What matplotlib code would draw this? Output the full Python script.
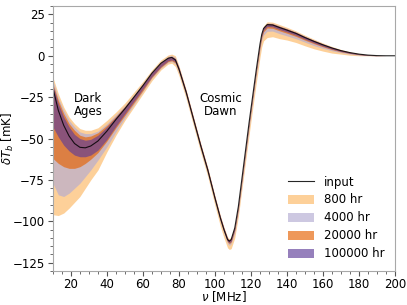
import matplotlib
matplotlib.use("Agg")
import matplotlib.pyplot as plt
import numpy as np
from matplotlib.ticker import MultipleLocator

# frequency grid [MHz]
nu = [10, 13, 16, 19, 22, 25, 28, 31, 35, 40, 45, 50, 55, 60, 65, 70, 74, 76, 78,
      80, 84, 88, 92, 96, 100, 103, 105, 107, 108, 109, 111, 113, 115, 117, 119,
      121, 123, 125, 126, 127, 129, 132, 136, 140, 145, 150, 155, 160, 165, 170,
      175, 180, 185, 190, 195, 200]

# input signal [mK]
t_input = [-19.5, -33, -42, -48.5, -53, -55.3, -55.6, -54.5, -51.5, -45.5, -38.5, -32, -25, -18, -10.5, -4.5, -1.5, -1, -2.5,
           -8, -22, -38, -54, -69, -86, -98, -105, -111, -112, -111, -104, -91, -74, -57, -40,
           -24, -8, 7, 13, 16.5, 18.8, 18.6, 17, 15.5, 13.5, 11, 8.7, 6.6, 4.7, 3.1,
           1.9, 1.0, 0.4, 0.1, 0, 0]

# 800 hr band
lo_800 = [-96, -96.5, -95, -92, -88.5, -85, -80, -75, -69, -58, -48, -39, -31, -23, -15, -8.5, -5, -4.5, -6.5,
          -12, -26, -42, -58, -73, -90.5, -103, -110, -116, -117, -116.5, -110, -97, -80.5, -64, -47.5,
          -31.5, -16, -1, 5.5, 9, 11, 11.5, 10.3, 9.5, 8, 6, 4.2, 2.8, 1.6, 1.0,
          0.3, 0, 0, 0, 0, 0]
hi_800 = [-13, -23, -31, -37, -41, -44, -45, -45, -43.5, -39, -34, -28.5, -22, -15.5, -8.5, -2.5, 0.5, 1, 0,
          -6, -20.5, -36.5, -52.5, -67.5, -84.5, -96.5, -103.5, -109.5, -110.5, -109.5, -102.5, -89.5, -72.5, -55.5, -38.5,
          -22.5, -6.5, 8.5, 14.5, 18, 20.5, 20.3, 18.8, 17.2, 15, 12.4, 10, 7.7, 5.6, 3.8,
          2.4, 1.3, 0.6, 0.2, 0, 0]

# 4000 hr band
lo_4000 = [-77, -84, -85, -83, -80, -77, -73, -69, -63, -55, -46, -37.5, -29.5, -21.5, -13.5, -7.5, -4, -3.5, -5,
           -10.5, -24.5, -40.5, -56.5, -71.5, -88.5, -100.5, -107.5, -113.5, -114.5, -113.5, -107, -94, -77.5, -60.5, -43.5,
           -27.5, -11.5, 3.5, 9.5, 12.5, 14.8, 14.9, 13.3, 12, 10.3, 8.2, 6.1, 4.5, 3, 1.9,
           1.0, 0.4, 0.1, 0, 0, 0]
hi_4000 = [-15, -25.5, -33, -39, -43, -46, -47, -47, -45.5, -41, -35.5, -30, -23.5, -16.5, -9.5, -3.5, -0.3, 0.2, -1,
           -6.8, -21, -37, -53, -68, -85, -97, -104, -110, -111, -110, -103, -90, -73, -56, -39,
           -23, -7, 8, 14, 17.5, 19.8, 19.6, 18, 16.5, 14.4, 11.8, 9.5, 7.3, 5.3, 3.6,
           2.2, 1.2, 0.5, 0.1, 0, 0]

# 20000 hr band
lo_20000 = [-62, -65, -67, -68, -68, -67, -65, -62.5, -58.5, -51.5, -43.5, -36, -28.5, -21, -13, -7, -3.5, -3, -4.3,
            -9.5, -23.5, -39.5, -55.5, -70.5, -87.5, -99.5, -106.5, -112.5, -113.5, -112.5, -105.5, -92.5, -75.5, -58.5, -41.5,
            -25.5, -9.5, 5, 11, 14.5, 16.8, 16.6, 15, 13.6, 11.7, 9.4, 7.3, 5.4, 3.7, 2.4,
            1.4, 0.7, 0.2, 0, 0, 0]
hi_20000 = [-17, -27, -35, -41, -45, -48, -49, -48.5, -46.5, -42, -36.5, -30.5, -24, -17, -10, -4, -0.8, -0.3, -1.7,
            -7.2, -21.2, -37.2, -53.2, -68.2, -85.2, -97.2, -104.2, -110.2, -111.2, -110.2, -103.2, -90.2, -73.2, -56.2, -39.2,
            -23.2, -7.2, 7.8, 13.8, 17.3, 19.6, 19.4, 17.8, 16.3, 14.2, 11.6, 9.3, 7.1, 5.1, 3.5,
            2.1, 1.1, 0.5, 0.1, 0, 0]

# 100000 hr band
lo_100000 = [-43, -49, -54, -57.5, -60, -61, -61, -60, -57, -50.5, -42.5, -35, -27.5, -20, -12.5, -6.5, -3, -2.5, -3.6,
             -9, -23, -39, -55, -70, -87, -99, -106, -112, -113, -112, -105, -92, -75, -58, -41,
             -25, -9, 6, 12, 15.5, 17.7, 17.5, 15.8, 14.4, 12.4, 10, 7.8, 5.8, 4, 2.6,
             1.5, 0.7, 0.2, 0, 0, 0]
hi_100000 = [-18, -29, -37, -43, -47.5, -50, -51, -50.5, -48, -43, -37, -31, -24.3, -17.3, -10, -4.2, -1, -0.5, -1.8,
             -7.4, -21.4, -37.4, -53.4, -68.4, -85.4, -97.4, -104.4, -110.4, -111.4, -110.4, -103.4, -90.4, -73.4, -56.4, -39.4,
             -23.4, -7.4, 7.6, 13.6, 17.1, 19.4, 19.2, 17.6, 16.1, 14.1, 11.5, 9.2, 7, 5, 3.4,
             2.1, 1.1, 0.5, 0.1, 0, 0]

labels = ["800 hr", "4000 hr", "20000 hr", "100000 hr"]
colors = ["#fdb863", "#b2abd2", "#e66101", "#5e3c99"]
bands = [(lo_800, hi_800), (lo_4000, hi_4000), (lo_20000, hi_20000), (lo_100000, hi_100000)]

plt.rcParams['font.family'] = ['DejaVu Sans']
fig = plt.figure(figsize=(4.07, 3.05), dpi=100)
ax = fig.add_axes([0.130, 0.1115, 0.8405, 0.8685])

for (lo, hi), c, lab in zip(bands, colors, labels):
    ax.fill_between(nu, lo, hi, color=c, alpha=0.65, lw=0, label=lab)
ax.plot(nu, t_input, color="black", lw=0.8, alpha=0.85, label="input")

ax.set_xlim(10, 200)
ax.set_ylim(-130, 30)
ax.xaxis.set_major_locator(MultipleLocator(20))
ax.xaxis.set_minor_locator(MultipleLocator(5))
ax.yaxis.set_major_locator(MultipleLocator(25))
ax.yaxis.set_minor_locator(MultipleLocator(5))
for s in ax.spines.values():
    s.set_color("#a8a8a8")
ax.tick_params(which="both", colors="#555555", labelcolor="black", labelsize=8.5)
ax.tick_params(which="major", length=3.5, pad=2.5)
ax.tick_params(axis="x", which="major", pad=1.2)
ax.tick_params(which="minor", length=2)

ax.set_xlabel(r"$\nu$ [MHz]", fontsize=8.5)
ax.xaxis.set_label_coords(0.5, -0.068)
ax.set_ylabel(r"$\delta T_b$ [mK]", fontsize=8.5)
ax.yaxis.set_label_coords(-0.107, 0.5)

ax.text(29.5, -29.5, "Dark\nAges", ha="center", va="center", fontsize=8.5, linespacing=1.0)
ax.text(103, -29.5, "Cosmic\nDawn", ha="center", va="center", fontsize=8.5, linespacing=1.0)

h, l = ax.get_legend_handles_labels()
order = [4, 0, 1, 2, 3]
ax.legend([h[i] for i in order], [l[i] for i in order], loc="lower right",
          frameon=False, fontsize=8.5, handlelength=2.2, handleheight=0.8,
          borderaxespad=0.5, labelspacing=0.42, handletextpad=0.8)

fig.savefig("out.png", dpi=100)
